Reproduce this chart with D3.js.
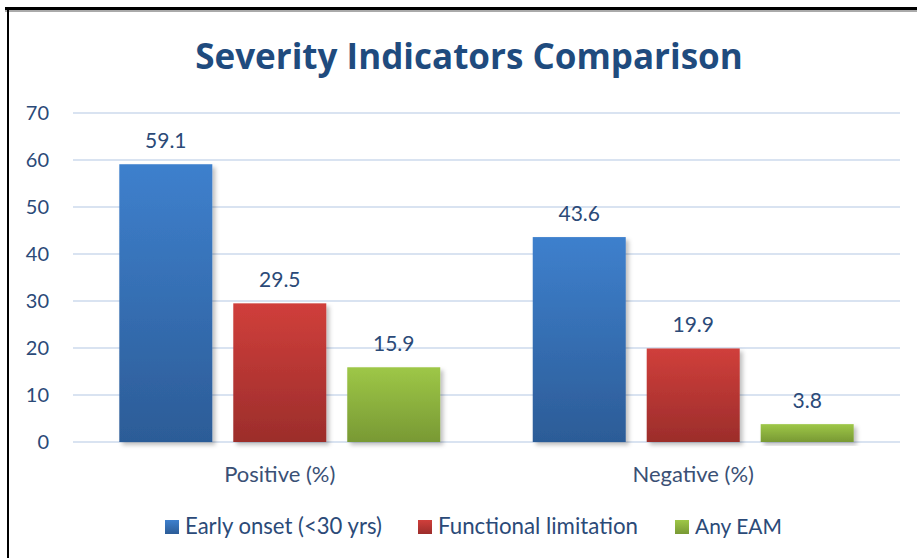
<!DOCTYPE html>
<head>
<meta charset="utf-8">
<script src="https://d3js.org/d3.v7.min.js"></script>
<style>
body { margin: 0; background: #fff; }
text { font-family: Lato, "Open Sans", sans-serif; }
</style>
</head>
<body>
<div id="chart"></div>
<script>
// data
var categories = ["Positive (%)", "Negative (%)"];
var series = ["Early onset (<30 yrs)", "Functional limitation", "Any EAM"];
var earlyOnset = [59.1, 43.6];
var functionalLimitation = [29.5, 19.9];
var anyEAM = [15.9, 3.8];
var yTicks = [0, 10, 20, 30, 40, 50, 60, 70];

var values = [earlyOnset, functionalLimitation, anyEAM];
var colors = [["#3e80cd", "#2c5c97"], ["#d03f3b", "#9c2d2b"], ["#9ec747", "#789934"]];

var width = 917, height = 558;
var svg = d3.select("#chart").append("svg")
  .attr("width", width)
  .attr("height", height);

// shrink/grow a text's font-size until it is as wide as the picture's
function fitWidth(sel, target) {
  sel.each(function() {
    var t = d3.select(this);
    var fs = parseFloat(t.style("font-size"));
    var w = this.getComputedTextLength();
    t.style("font-size", (fs * target / w) + "px");
  });
}

var defs = svg.append("defs");
colors.forEach(function(c, i) {
  var g = defs.append("linearGradient")
    .attr("id", "grad" + i)
    .attr("x1", 0).attr("y1", 0).attr("x2", 0).attr("y2", 1);
  g.append("stop").attr("offset", "0%").attr("stop-color", c[0]);
  g.append("stop").attr("offset", "100%").attr("stop-color", c[1]);
});
var shadow = defs.append("filter").attr("id", "shadow")
  .attr("x", "-10%").attr("y", "-10%").attr("width", "130%").attr("height", "130%");
shadow.append("feDropShadow")
  .attr("dx", 3).attr("dy", 3).attr("stdDeviation", 2)
  .attr("flood-color", "#000").attr("flood-opacity", 0.25);

// frame lines
svg.append("rect")
  .attr("x", 5).attr("y", 10).attr("width", width).attr("height", 2)
  .attr("fill", "#aaa");
svg.append("rect")
  .attr("x", 5).attr("y", 7).attr("width", width).attr("height", 3)
  .attr("fill", "#000");
svg.append("rect")
  .attr("x", 7).attr("y", 7).attr("width", 2).attr("height", height)
  .attr("fill", "#000");

var plotLeft = 73, plotRight = 900, plotTop = 113, plotBottom = 442;

var y = d3.scaleLinear().domain([0, 70]).range([plotBottom, plotTop]);
var x0 = d3.scaleBand().domain(categories).range([plotLeft, plotRight])
  .paddingInner(0.2237).paddingOuter(0.112);
var x1 = d3.scaleBand().domain(series).range([0, x0.bandwidth()])
  .paddingInner(0.184).paddingOuter(0);

// gridlines
svg.append("g")
  .selectAll("line")
  .data(yTicks)
  .join("line")
  .attr("x1", plotLeft).attr("x2", plotRight)
  .attr("y1", function(d) { return y(d); })
  .attr("y2", function(d) { return y(d); })
  .style("stroke", "#d9e3f1")
  .style("stroke-width", 2);

// y axis labels
var yAxis = svg.append("g")
  .attr("transform", "translate(" + (plotLeft - 24) + ",0)")
  .call(d3.axisLeft(y).tickValues(yTicks).tickSize(0).tickPadding(0));
yAxis.select(".domain").remove();
yAxis.selectAll("text")
  .style("font-family", "Lato, sans-serif")
  .style("font-size", "20px")
  .style("fill", "#2b4a78");

// bars
var groups = svg.append("g").selectAll("g")
  .data(categories)
  .join("g")
  .attr("transform", function(d) { return "translate(" + x0(d) + ",0)"; });

groups.each(function(cat, ci) {
  var g = d3.select(this);
  series.forEach(function(s, si) {
    var v = values[si][ci];
    g.append("rect")
      .attr("x", x1(s))
      .attr("y", y(v))
      .attr("width", x1.bandwidth())
      .attr("height", y(0) - y(v))
      .attr("fill", "url(#grad" + si + ")")
      .attr("filter", "url(#shadow)");
    g.append("text")
      .attr("x", x1(s) + x1.bandwidth() / 2)
      .attr("y", y(v) - 16)
      .attr("text-anchor", "middle")
      .style("font-size", "21px")
      .style("fill", "#2b4a78")
      .text(v);
  });
});

// category labels
svg.append("g").selectAll("text")
  .data(categories)
  .join("text")
  .attr("x", function(d) { return x0(d) + x0.bandwidth() / 2; })
  .attr("y", 482)
  .attr("text-anchor", "middle")
  .style("font-size", "22px")
  .style("fill", "#3a5075")
  .text(function(d) { return d; });

// title
svg.append("text")
  .attr("x", 469)
  .attr("y", 69)
  .attr("text-anchor", "middle")
  .style("font-family", "'Open Sans', sans-serif")
  .style("font-size", "34px")
  .style("font-weight", "bold")
  .style("fill", "#1f4b7e")
  .text("Severity Indicators Comparison")
  .call(fitWidth, 548);

// legend
var legendX = [165, 418, 675];
var legendW = [197, 200, 87];
var legend = svg.append("g").selectAll("g")
  .data(series)
  .join("g")
  .attr("transform", function(d, i) { return "translate(" + legendX[i] + ",520)"; });
legend.append("rect")
  .attr("width", 14).attr("height", 14)
  .attr("fill", function(d, i) { return "url(#grad" + i + ")"; });
legend.append("text")
  .attr("x", 20).attr("y", 14)
  .style("font-size", "20px")
  .style("fill", "#2b4a78")
  .text(function(d) { return d; })
  .each(function(d, i) { d3.select(this).call(fitWidth, legendW[i]); });
</script>
</body>
